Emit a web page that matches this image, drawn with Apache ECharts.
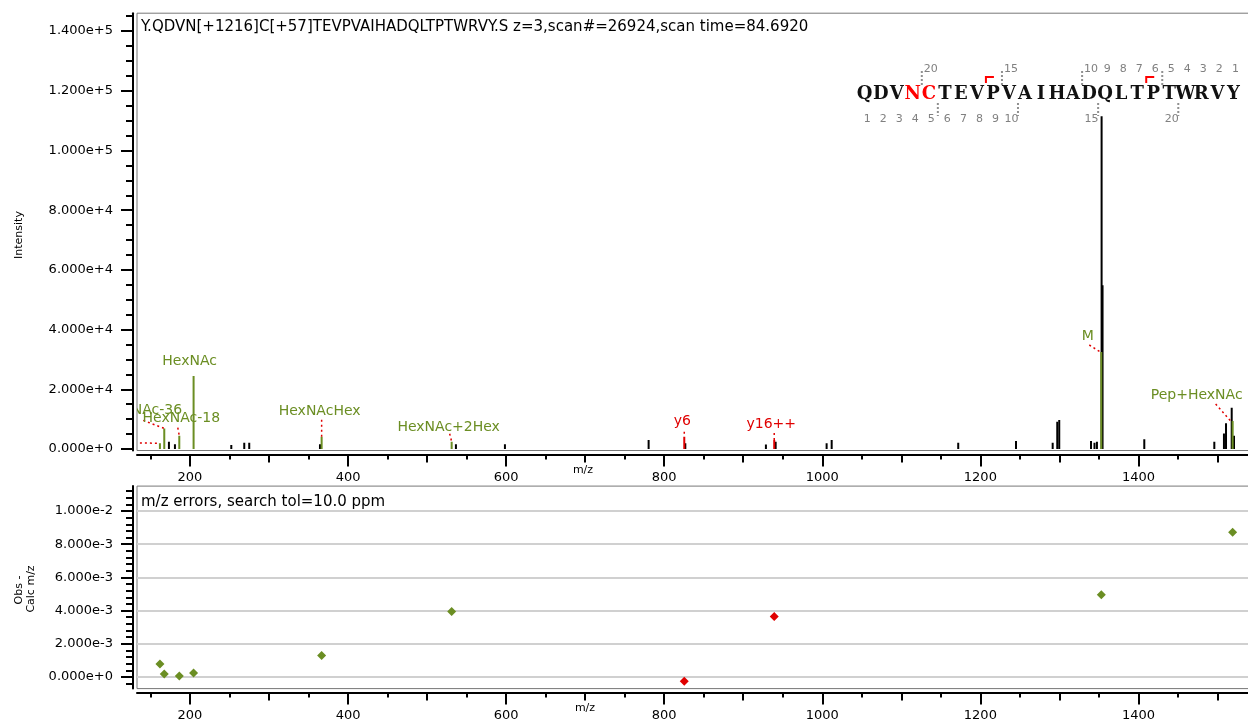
<!DOCTYPE html>
<html><head><meta charset="utf-8">
<script src="https://cdn.jsdelivr.net/npm/echarts@6/dist/echarts.min.js"></script>
<style>html,body{margin:0;padding:0;background:#fff}#c{width:1248px;height:721px}</style>
</head><body><div id="c"></div>
<script>
// ---------------- data ----------------
const titleText = 'Y.QDVN[+1216]C[+57]TEVPVAIHADQLTPTWRVY.S z=3,scan#=26924,scan time=84.6920';
const errTitle = 'm/z errors, search tol=10.0 ppm';

// unannotated peaks (m/z, intensity)
const peakMz  = [173.4, 181.0, 252.3, 268.7, 275.0, 364.5, 536.5, 598.5, 780.3, 826.7, 928.7, 941.0, 1005.5, 1011.9, 1172.0, 1245.1, 1291.5, 1297.3, 1299.8, 1340.0, 1344.4, 1347.5, 1353.4, 1354.6, 1407.4, 1496.0, 1508.2, 1510.8, 1518.0, 1520.9];
const peakInt = [2400, 1600, 1350, 2100, 2100, 1600, 1600, 1600, 3000, 1900, 1550, 2450, 1900, 3000, 2100, 2700, 2100, 9150, 9700, 2700, 2100, 2400, 111500, 54900, 3250, 2450, 5200, 8600, 13800, 4450];

// annotated (matched) peaks
const annMz    = [162.0, 167.5, 186.5, 204.6, 366.6, 531.1, 825.4, 939.2, 1353.0, 1519.2];
const annInt   = [1900, 6900, 4450, 24450, 4100, 2450, 4100, 3000, 32500, 9400];
const annLabel = ['Hex', 'HexNAc-36', 'HexNAc-18', 'HexNAc', 'HexNAcHex', 'HexNAc+2Hex', 'y6', 'y16++', 'M', 'Pep+HexNAc'];
const annKind  = ['g', 'g', 'g', 'g', 'g', 'g', 'r', 'r', 'g', 'g'];
// mass errors (Obs - Calc m/z) of the annotated peaks
const errVal   = [0.00078, 0.00018, 0.00006, 0.00024, 0.00130, 0.00395, -0.00025, 0.00365, 0.00495, 0.00872];

// tick labels
const xLabelVals = [200, 400, 600, 800, 1000, 1200, 1400, 1600];
const yTopLabelVals = [0, 20000, 40000, 60000, 80000, 100000, 120000, 140000];
const yBotLabelVals = [0, 0.002, 0.004, 0.006, 0.008, 0.010];

// peptide
const sequence = ['Q','D','V','N','C','T','E','V','P','V','A','I','H','A','D','Q','L','T','P','T','W','R','V','Y'];
const modifiedIdx = [3, 4];
const shownNumbers = [1,2,3,4,5,6,7,8,9,10,15,20];
const matchedY = [16, 6];

// ---------------- layout / style ----------------
const GREEN = '#6b8e23', RED = '#e00000';
const FONT = '"DejaVu Sans", Verdana, sans-serif';
const kindColor = k => (k === 'r' ? RED : GREEN);
// label placement (px, relative to peak top): label centre and dotted leader start
const labelLayout = {
  'Hex':         {dx: -95, dy: -6,  lx: -70, ly: -1.6, ex: 0, ey: 0},
  'HexNAc-36':   {dx: -21, dy: -18, lx: -21, ly: -8, ex: 0, ey: 0},
  'HexNAc-18':   {dx: 2,   dy: -17, lx: -1.5, ly: -8, ex: 0, ey: 0},
  'HexNAc':      {dx: -4,  dy: -15},
  'HexNAcHex':   {dx: -2,  dy: -25, lx: 0, ly: -17, ex: 0, ey: 0},
  'HexNAc+2Hex': {dx: -3,  dy: -14, lx: -2, ly: -8, ex: 0, ey: 0},
  'y6':          {dx: -2,  dy: -15, lx: 0, ly: -5, ex: 0, ey: 0},
  'y16++':       {dx: -3,  dy: -16, lx: 0, ly: -7, ex: 0, ey: 0},
  'M':           {dx: -13.5, dy: -16, lx: -12, ly: -7, ex: -1, ey: 0},
  'Pep+HexNAc':  {dx: -36, dy: -26, lx: -17, ly: -17, ex: -2, ey: 0}
};

const X_MIN = 133, X_MAX = 1620;
const PX_PER_MZ = 0.7904;
const GRID_LEFT = 137;
const GRID_W = (X_MAX - X_MIN) * PX_PER_MZ;

function range(a, b, step) { const r = []; for (let v = a; v <= b + 1e-9; v += step) r.push(v); return r; }
const x100 = range(300, 1600, 200);
const x50 = range(150, 1600, 100);
const yTopMinor = range(0, 145000, 5000);
const yBotMinor = range(-4, 114, 4).map(v => +(v * 1e-4).toFixed(6));

function xAxes(gridIndex, labels) {
  const base = {type: 'value', gridIndex, min: X_MIN, max: X_MAX, position: 'bottom', offset: 4,
    splitLine: {show: false}};
  return [
    Object.assign({}, base, {
      axisLine: {show: true, onZero: false, lineStyle: {color: '#000', width: 2}},
      axisTick: {show: true, length: 12, customValues: xLabelVals, lineStyle: {color: '#000', width: 2}},
      axisLabel: {show: labels, customValues: xLabelVals, margin: 17, color: '#000', fontSize: 13, fontFamily: FONT,
        formatter: v => String(v)}
    }),
    Object.assign({}, base, {
      axisLine: {show: false, onZero: false},
      axisTick: {show: true, length: 8, customValues: x100, lineStyle: {color: '#000', width: 2}},
      axisLabel: {show: false}
    }),
    Object.assign({}, base, {
      axisLine: {show: false, onZero: false},
      axisTick: {show: true, length: 5, customValues: x50, lineStyle: {color: '#000', width: 2}},
      axisLabel: {show: false}
    })
  ];
}

const option = {
  animation: false,
  backgroundColor: '#fff',
  grid: [
    {left: GRID_LEFT, top: 13.2, width: GRID_W, height: 437.3, show: true, borderColor: '#777', borderWidth: 1, containLabel: false, outerBoundsMode: 'none'},
    {left: GRID_LEFT, top: 486.1, width: GRID_W, height: 202.5, show: true, borderColor: '#777', borderWidth: 1, containLabel: false, outerBoundsMode: 'none'}
  ],
  xAxis: [].concat(xAxes(0, true), xAxes(1, true)),
  yAxis: [
    {type: 'value', gridIndex: 0, min: -500, max: 146000, position: 'left', offset: 4,
      splitLine: {show: false},
      axisLine: {show: true, onZero: false, lineStyle: {color: '#000', width: 2}},
      axisTick: {show: true, length: 12, customValues: yTopLabelVals, lineStyle: {color: '#000', width: 2}},
      axisLabel: {customValues: yTopLabelVals, margin: 20, color: '#000', fontSize: 13, fontFamily: FONT,
        formatter: v => Number(v).toExponential(3)}},
    {type: 'value', gridIndex: 0, min: -500, max: 146000, position: 'left', offset: 4,
      splitLine: {show: false}, axisLine: {show: false, onZero: false},
      axisTick: {show: true, length: 7, customValues: yTopMinor, lineStyle: {color: '#000', width: 2}},
      axisLabel: {show: false}},
    {type: 'value', gridIndex: 1, min: -0.0007, max: 0.0115, position: 'left', offset: 4,
      splitLine: {show: true, lineStyle: {color: '#d0d0d0', width: 2}},
      axisLine: {show: true, onZero: false, lineStyle: {color: '#000', width: 2}},
      axisTick: {show: true, length: 12, customValues: yBotLabelVals, lineStyle: {color: '#000', width: 2}},
      axisLabel: {customValues: yBotLabelVals, margin: 20, color: '#000', fontSize: 13, fontFamily: FONT,
        formatter: v => Number(v).toExponential(3)}},
    {type: 'value', gridIndex: 1, min: -0.0007, max: 0.0115, position: 'left', offset: 4,
      splitLine: {show: false}, axisLine: {show: false, onZero: false},
      axisTick: {show: true, length: 7, customValues: yBotMinor, lineStyle: {color: '#000', width: 2}},
      axisLabel: {show: false}}
  ],
  series: [
    {
      type: 'custom', name: 'peaks', xAxisIndex: 0, yAxisIndex: 0, clip: true, z: 3,
      data: peakMz.map((m, i) => [m, peakInt[i]]),
      encode: {x: 0, y: 1},
      renderItem: (params, api) => {
        const p0 = api.coord([api.value(0), 0]);
        const p1 = api.coord([api.value(0), api.value(1)]);
        return {type: 'line', shape: {x1: p0[0], y1: p0[1], x2: p1[0], y2: p1[1]},
          style: {stroke: '#000', lineWidth: 2}};
      }
    },
    {
      type: 'custom', name: 'matched', xAxisIndex: 0, yAxisIndex: 0, clip: true, z: 4,
      data: annMz.map((m, i) => [m, annInt[i]]),
      encode: {x: 0, y: 1},
      renderItem: (params, api) => {
        const i = params.dataIndex;
        const col = kindColor(annKind[i]);
        const p0 = api.coord([api.value(0), 0]);
        const p1 = api.coord([api.value(0), api.value(1)]);
        const L = labelLayout[annLabel[i]];
        const children = [
          {type: 'line', shape: {x1: p0[0], y1: p0[1], x2: p1[0], y2: p1[1]}, style: {stroke: col, lineWidth: 2}}
        ];
        if (L.lx !== undefined) {
          children.push({type: 'line', shape: {x1: p1[0] + L.lx, y1: p1[1] + L.ly, x2: p1[0] + L.ex, y2: p1[1] + L.ey},
            style: {stroke: RED, lineWidth: 1.5, lineDash: [2, 3]}});
        }
        children.push({type: 'text', x: p1[0] + L.dx, y: p1[1] + L.dy,
          style: {text: annLabel[i], fill: col, font: '14px ' + FONT, align: 'center', verticalAlign: 'middle'}});
        return {type: 'group', children};
      }
    },
    {
      type: 'scatter', name: 'errors', xAxisIndex: 3, yAxisIndex: 2,
      symbol: 'diamond', symbolSize: [9, 9],
      data: annMz.map((m, i) => ({value: [m, errVal[i]], itemStyle: {color: kindColor(annKind[i]), opacity: 1}}))
    }
  ],
  graphic: []
};

// ---- text decorations ----
const G = option.graphic;
G.push({type: 'text', x: 141, y: 27, style: {text: titleText, fill: '#000', font: '15px ' + FONT, verticalAlign: 'middle'}});
G.push({type: 'text', x: 141, y: 502, style: {text: errTitle, fill: '#000', font: '15px ' + FONT, verticalAlign: 'middle'}});
G.push({type: 'text', x: 583, y: 470, style: {text: 'm/z', fill: '#000', font: '11px ' + FONT, align: 'center', verticalAlign: 'middle'}});
G.push({type: 'text', x: 585, y: 708, style: {text: 'm/z', fill: '#000', font: '11px ' + FONT, align: 'center', verticalAlign: 'middle'}});
G.push({type: 'text', x: 19, y: 235, rotation: Math.PI / 2, style: {text: 'Intensity', fill: '#000', font: '11px ' + FONT, align: 'center', verticalAlign: 'middle'}});
G.push({type: 'text', x: 19.5, y: 590, rotation: Math.PI / 2, style: {text: 'Obs -', fill: '#000', font: '11px ' + FONT, align: 'center', verticalAlign: 'middle'}});
G.push({type: 'text', x: 31.5, y: 589, rotation: Math.PI / 2, style: {text: 'Calc m/z', fill: '#000', font: '11px ' + FONT, align: 'center', verticalAlign: 'middle'}});

// ---- peptide fragment map ----
const letterX = i => 864.7 + 16.03 * i;
const N = sequence.length;
sequence.forEach((aa, i) => {
  G.push({type: 'text', x: letterX(i), y: 94, z: 10, style: {text: aa, fill: modifiedIdx.includes(i) ? '#ff0000' : '#111',
    font: 'bold 18px "DejaVu Serif", serif', align: 'center', verticalAlign: 'middle'}});
});
shownNumbers.forEach(k => {
  G.push({type: 'text', x: letterX(N - k) + 2, y: 69.5, z: 10, style: {text: String(k), fill: '#808080', font: '11px ' + FONT, align: 'center', verticalAlign: 'middle'}});
  G.push({type: 'text', x: letterX(k - 1) + 2.5, y: 119.5, z: 10, style: {text: String(k), fill: '#808080', font: '11px ' + FONT, align: 'center', verticalAlign: 'middle'}});
});
for (let k = 5; k < N; k += 5) {
  const yb = (letterX(N - k - 1) + letterX(N - k)) / 2 + 1;
  G.push({type: 'line', z: 10, shape: {x1: yb, y1: 71, x2: yb, y2: 86}, style: {stroke: '#909090', lineWidth: 2, lineDash: [2, 2]}});
  const bb = (letterX(k - 1) + letterX(k)) / 2 + 1;
  G.push({type: 'line', z: 10, shape: {x1: bb, y1: 103, x2: bb, y2: 116}, style: {stroke: '#909090', lineWidth: 2, lineDash: [2, 2]}});
}
matchedY.forEach(k => {
  const bx = (letterX(N - k - 1) + letterX(N - k)) / 2 + 1;
  G.push({type: 'polyline', z: 10, shape: {points: [[bx, 83], [bx, 77], [bx + 8, 77]]}, style: {stroke: '#ff0000', lineWidth: 2, fill: null}});
});

const chart = echarts.init(document.getElementById('c'));
chart.setOption(option);
</script>
</body></html>
